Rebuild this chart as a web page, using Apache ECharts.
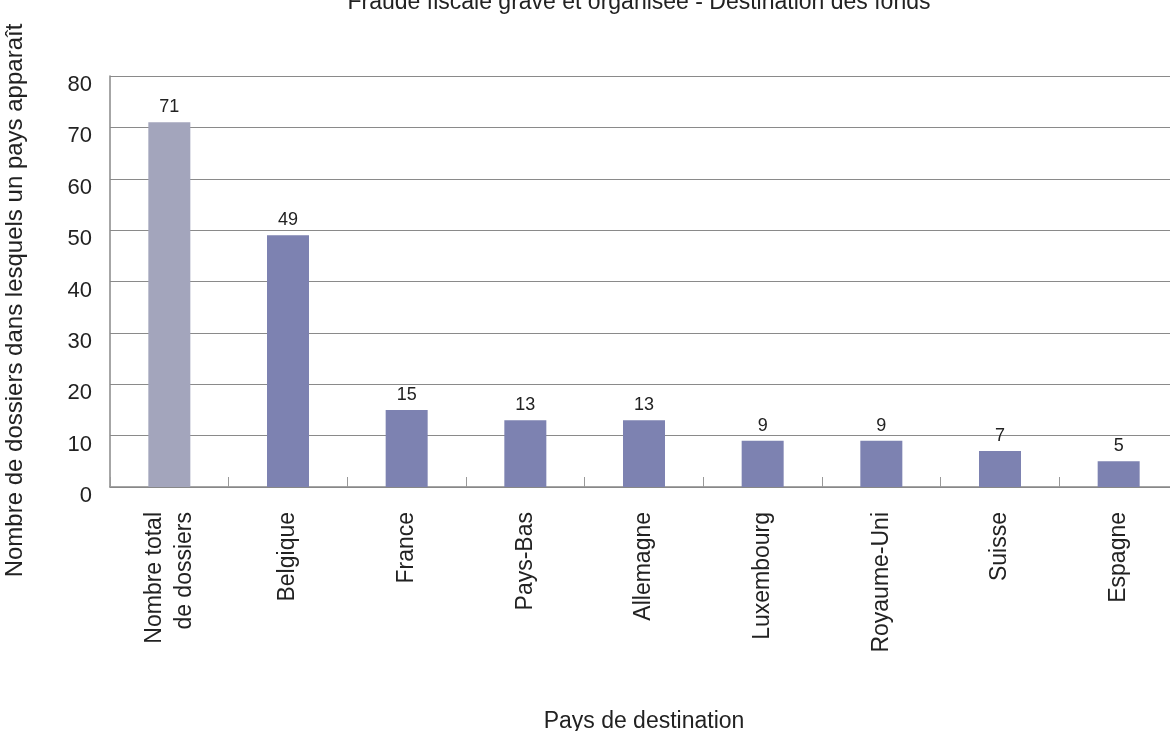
<!DOCTYPE html>
<html><head><meta charset="utf-8">
<script src="https://cdn.jsdelivr.net/npm/echarts@6/dist/echarts.min.js"></script>
<style>html,body{margin:0;padding:0;background:#fff}#c{width:1170px;height:731px}</style>
</head><body><div id="c"></div>
<script>
const categories = ["Nombre total\nde dossiers","Belgique","France","Pays-Bas","Allemagne","Luxembourg","Royaume-Uni","Suisse","Espagne"];
const values = [71,49,15,13,13,9,9,7,5];
const barColors = ["#a3a5bc","#7d82b1","#7d82b1","#7d82b1","#7d82b1","#7d82b1","#7d82b1","#7d82b1","#7d82b1"];
const titleText = "Fraude fiscale grave et organisée - Destination des fonds";
const yName = "Nombre de dossiers dans lesquels un pays apparaît";
const xName = "Pays de destination";
const font = "Liberation Sans, Arial, sans-serif";

const chart = echarts.init(document.getElementById('c'), null, {renderer:'canvas'});
chart.setOption({
  animation:false,
  textStyle:{fontFamily:font},
  title:{text:titleText,left:639,textAlign:'center',top:-9,padding:0,textStyle:{fontSize:23,fontWeight:'normal',color:'#222',fontFamily:font}},
  grid:{left:110,top:76,bottom:244,right:-8,containLabel:false,outerBoundsMode:'none'},
  xAxis:{
    type:'category',data:categories,
    axisLine:{lineStyle:{color:'#888',width:1.5}},
    axisTick:{show:true,inside:true,length:10,lineStyle:{color:'#999'},alignWithLabel:false},
    axisLabel:{rotate:90,margin:25,fontSize:23,color:'#222',fontFamily:font,interval:0,lineHeight:30},
    name:xName,nameLocation:'middle',nameGap:223,
    nameTextStyle:{fontSize:23,color:'#222',fontFamily:font}
  },
  yAxis:{
    type:'value',min:0,max:80,interval:10,
    axisLine:{show:true,lineStyle:{color:'#888',width:1.5}},
    axisTick:{show:false},
    splitLine:{lineStyle:{color:'#8a8a8a',width:1.2}},
    axisLabel:{margin:18,formatter:'{a|{value}}',
      rich:{a:{fontSize:22,color:'#222',fontFamily:font,padding:[18,0,0,0]}}},
    name:yName,nameLocation:'middle',nameGap:83,nameRotate:90,
    nameTextStyle:{fontSize:24,color:'#222',fontFamily:font,padding:[0,38,0,0]}
  },
  series:[{
    type:'bar',barWidth:42,
    data:values.map((v,i)=>({value:v,itemStyle:{color:barColors[i]}})),
    label:{show:true,position:'top',distance:6,fontSize:18,color:'#222',fontFamily:font}
  }]
});
</script></body></html>
